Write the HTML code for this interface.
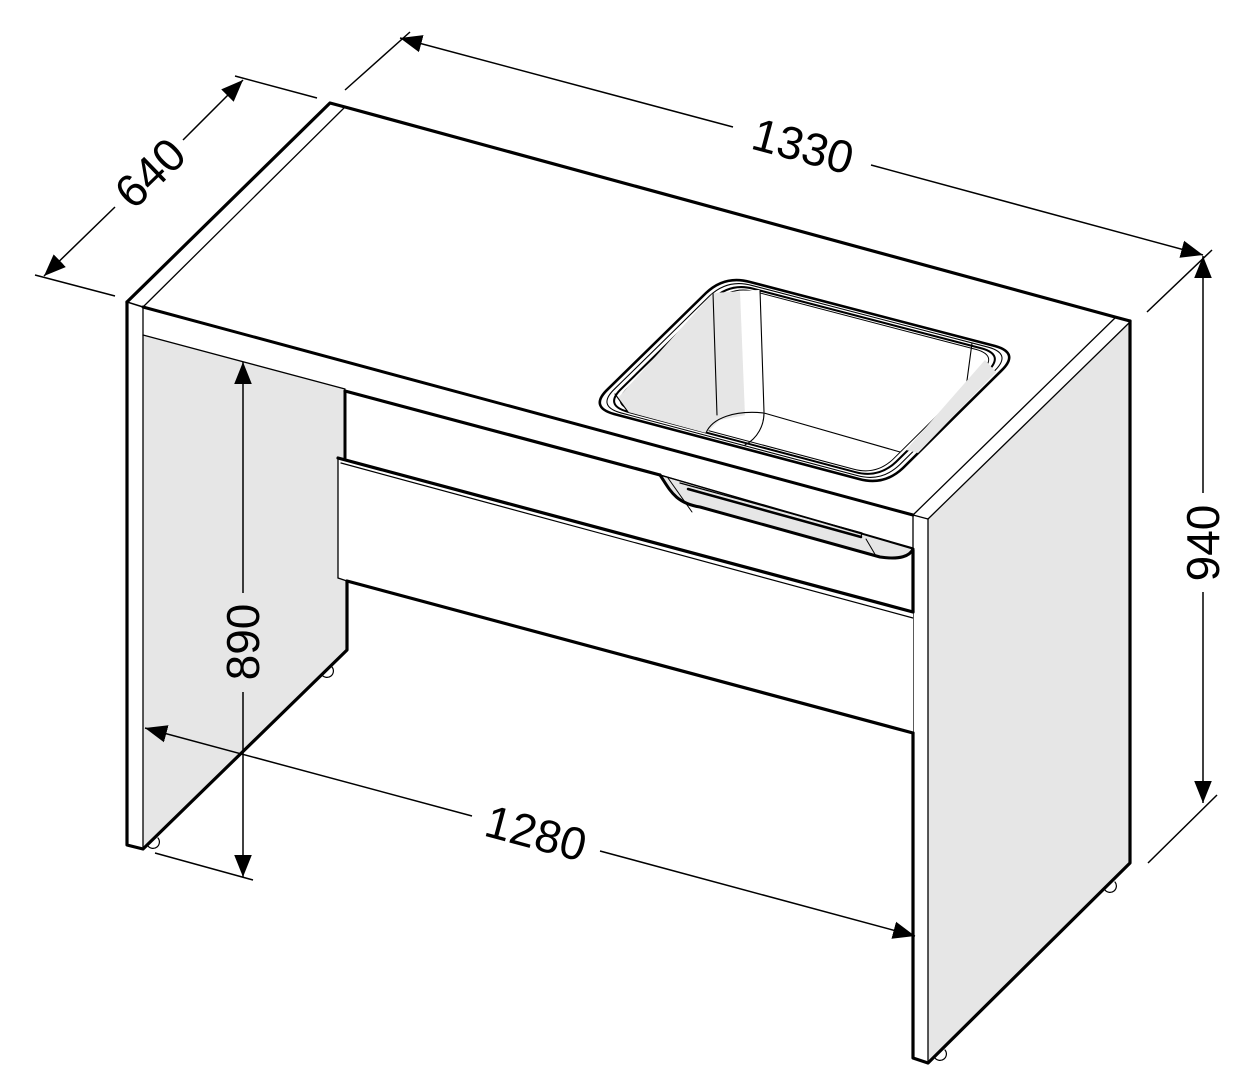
<!DOCTYPE html>
<html><head><meta charset="utf-8">
<style>
html,body{margin:0;padding:0;background:#fff;}
svg{display:block;}
text{font-family:"Liberation Sans",sans-serif;font-size:46px;fill:#000;}
</style></head>
<body>
<svg width="1246" height="1066" viewBox="0 0 1246 1066" xmlns="http://www.w3.org/2000/svg">
<defs>
<marker id="ar" viewBox="0 0 10 10" refX="10" refY="5" markerWidth="22" markerHeight="22" markerUnits="userSpaceOnUse" orient="auto-start-reverse">
<path d="M0,1 L10,5 L0,9 Z" fill="#000"/>
</marker>
</defs>
<g fill="none" stroke="#000" stroke-linejoin="round" stroke-linecap="round">
<!-- left inner grey face -->
<polygon points="143,335 345,389 347,650 143,848" fill="#e6e6e6" stroke="none"/>
<!-- right outer grey face -->
<polygon points="928,519 1130,322 1130,863 928,1062" fill="#e6e6e6" stroke="none"/>

<!-- countertop -->
<path d="M127,302 L330,103 L345,107 L1115,317 L1130,321" stroke-width="3.2"/>
<line x1="143" y1="307" x2="345" y2="107" stroke-width="1.3"/>
<line x1="127" y1="302" x2="143" y2="307" stroke-width="1.5"/>
<line x1="143" y1="307" x2="913" y2="515" stroke-width="3"/>
<line x1="913" y1="515" x2="1115" y2="318" stroke-width="1.3"/>
<line x1="928" y1="519" x2="1130" y2="322" stroke-width="1.3"/>
<line x1="913" y1="515" x2="928" y2="519" stroke-width="1.3"/>
<line x1="143" y1="335" x2="345" y2="389" stroke-width="1.3"/>

<!-- left panel -->
<path d="M127,302 L127,845 L143,849 L347,650 L347,581" stroke-width="3.2"/>
<line x1="143" y1="307" x2="143" y2="849" stroke-width="1.3"/>
<path d="M148,846 a6,6 0 0 0 10,-8" stroke-width="1.2"/>
<path d="M322,675 a6,6 0 0 0 10,-8" stroke-width="1.2"/>

<!-- right panel -->
<line x1="913" y1="515" x2="913" y2="733" stroke-width="1.3"/>
<path d="M913,733 L913,1058 L928,1063 L1130,863 L1130,321" stroke-width="3.2"/>
<line x1="928" y1="519" x2="928" y2="1062" stroke-width="1.3"/>
<path d="M935,1058 a6,6 0 0 0 10,-8" stroke-width="1.2"/>
<path d="M1105,890 a6,6 0 0 0 10,-8" stroke-width="1.2"/>

<!-- drawer 1 -->
<polygon points="345,391 913,548 913,612 345,458" fill="#fff" stroke="none"/>
<line x1="345" y1="391" x2="660" y2="475" stroke-width="3.2"/>
<line x1="345" y1="391" x2="345" y2="458" stroke-width="3"/>
<line x1="913" y1="550" x2="913" y2="612" stroke-width="3.2"/>
<!-- handle recess -->
<path d="M660,475 C670,490 675,503 700,507 L880,557 C900,560 910,556 913,549 Z" fill="#e6e6e6" stroke-width="1.2"/>
<path d="M660,475 C670,490 675,503 700,507 L880,557 C900,560 910,556 913,549" stroke-width="3"/>
<line x1="660" y1="475" x2="913" y2="548" stroke-width="1.2"/>
<path d="M680,483 L862,533 L861,537 L688,489" stroke-width="1.2"/>
<line x1="688" y1="489" x2="861" y2="537" stroke-width="2.5"/>
<line x1="668" y1="478" x2="692" y2="512" stroke-width="1"/>
<line x1="866" y1="539" x2="876" y2="556" stroke-width="1"/>

<!-- drawer 2 -->
<polygon points="338,458 913,612 913,733 338,578" fill="#fff" stroke="none"/>
<line x1="338" y1="458" x2="913" y2="612" stroke-width="3.2"/>
<line x1="341" y1="463" x2="913" y2="618" stroke-width="1.2"/>
<line x1="338" y1="458" x2="338" y2="578" stroke-width="1.3"/>
<line x1="338" y1="578" x2="347" y2="581" stroke-width="1.3"/>
<line x1="347" y1="581" x2="913" y2="733" stroke-width="3.2"/>

<!-- sink -->
<path d="M750,282 L995,346 Q1020,353 1001,371 L903,468 Q884,486 859,479 L614,414 Q589,407 608,389 L706,293 Q725,275 750,282 Z" fill="#fff" stroke-width="2.6"/>
<g transform="translate(804,380) scale(0.965) translate(-804,-380)"><path d="M750,282 L995,346 Q1020,353 1001,371 L903,468 Q884,486 859,479 L614,414 Q589,407 608,389 L706,293 Q725,275 750,282 Z" stroke-width="1.1"/></g>
<g transform="translate(804,380) scale(0.93) translate(-804,-380)"><path d="M750,282 L995,346 Q1020,353 1001,371 L903,468 Q884,486 859,479 L614,414 Q589,407 608,389 L706,293 Q725,275 750,282 Z" stroke-width="2.2"/></g>
<g transform="translate(804,380) scale(0.9) translate(-804,-380)"><path d="M750,282 L995,346 Q1020,353 1001,371 L903,468 Q884,486 859,479 L614,414 Q589,407 608,389 L706,293 Q725,275 750,282 Z" fill="#fff" stroke-width="1.1"/></g>
<!-- basin interior -->
<polygon points="713,293 760,290 762,412 720,420 706,433 628,412 618,398" fill="#e6e6e6" stroke="none"/>
<polygon points="740,291 760,290 764,412 745,416" fill="#fff" stroke="none"/>
<path d="M713,293 L717,415" stroke-width="1.1"/>
<path d="M760,290 L764,412" stroke-width="1.1"/>
<path d="M706,433 C712,418 735,410 764,413 L900,452" stroke-width="1.1"/>
<path d="M764,413 C764,425 758,438 745,445" stroke-width="1.1"/>
<path d="M972,343 L966,388" stroke-width="1.1"/>
<path d="M615,394 L628,412" stroke-width="1.1"/>
<polygon points="985,360 996,372 918,453 906,450" fill="#e6e6e6" stroke="none"/>
</g>

<!-- dimension lines -->
<g stroke="#000" stroke-width="1.5" fill="none">
<!-- 640 -->
<line x1="35" y1="275" x2="115" y2="296"/>
<line x1="235" y1="76" x2="317" y2="98"/>
<line x1="115" y1="207" x2="44" y2="276" marker-end="url(#ar)"/>
<line x1="183" y1="140" x2="243" y2="80" marker-end="url(#ar)"/>
<!-- 1330 -->
<line x1="345" y1="90" x2="410" y2="32"/>
<line x1="1147" y1="312" x2="1212" y2="250"/>
<line x1="733" y1="127" x2="400" y2="38" marker-end="url(#ar)"/>
<line x1="871" y1="165" x2="1203" y2="255" marker-end="url(#ar)"/>
<!-- 940 -->
<line x1="1148" y1="863" x2="1217" y2="795"/>
<line x1="1203" y1="493" x2="1203" y2="256" marker-end="url(#ar)"/>
<line x1="1203" y1="592" x2="1203" y2="803" marker-end="url(#ar)"/>
<!-- 890 -->
<line x1="155" y1="853" x2="253" y2="880"/>
<line x1="243" y1="593" x2="243" y2="362" marker-end="url(#ar)"/>
<line x1="243" y1="692" x2="243" y2="877" marker-end="url(#ar)"/>
<!-- 1280 -->
<line x1="472" y1="816" x2="145" y2="728" marker-end="url(#ar)"/>
<line x1="600" y1="851" x2="915" y2="936" marker-end="url(#ar)"/>
</g>

<text x="0" y="0" text-anchor="middle" dominant-baseline="central" transform="translate(150,173) rotate(-44)">640</text>
<text x="0" y="0" text-anchor="middle" dominant-baseline="central" transform="translate(803,146) rotate(15)">1330</text>
<text x="0" y="0" text-anchor="middle" dominant-baseline="central" transform="translate(1203,543) rotate(-90)">940</text>
<text x="0" y="0" text-anchor="middle" dominant-baseline="central" transform="translate(243,642) rotate(-90)">890</text>
<text x="0" y="0" text-anchor="middle" dominant-baseline="central" transform="translate(536,833) rotate(15)">1280</text>
</svg>
</body></html>
